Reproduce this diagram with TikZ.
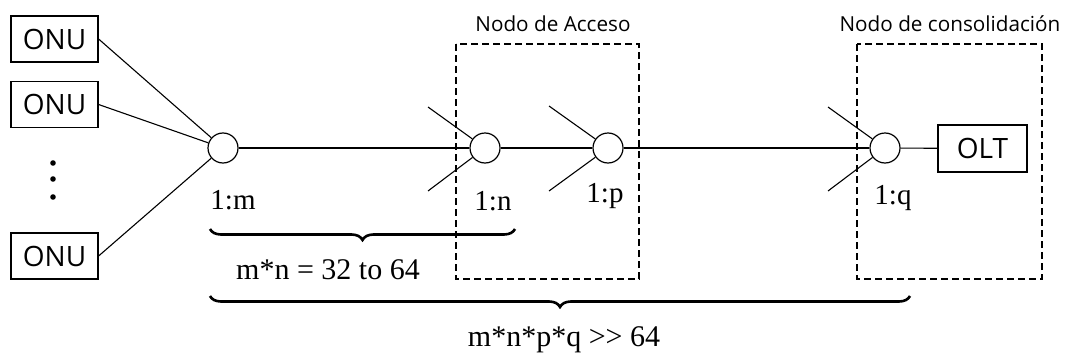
\documentclass[tikz,border=0pt]{standalone}
\usepackage{fontspec}
\setmainfont{Liberation Serif}
\newfontfamily\uisans{Open Sans}
\usetikzlibrary{decorations.pathreplacing}
\begin{document}
\begin{tikzpicture}[x=1pt,y=-1pt,
  line width=1.1pt,
  box/.style={draw,line width=1.2pt,inner sep=0pt,minimum width=87pt,minimum height=46pt,font=\uisans\fontsize{28}{30}\selectfont},
  splitter/.style={draw,circle,line width=1.2pt,minimum size=30pt,inner sep=0pt,fill=white},
  zone/.style={draw,dashed,dash pattern=on 7pt off 4pt,line width=1.2pt},
  ztitle/.style={font=\uisans\fontsize{20.7}{22}\selectfont},
  ratio/.style={font=\fontsize{29}{31}\selectfont},
  sum/.style={font=\fontsize{30}{32}\selectfont},
  bracket/.style={decorate,decoration={brace,mirror,amplitude=11pt},line width=2.6pt}]
\useasboundingbox (0,0) rectangle (1068,356);
% zones
\draw[zone] (456,44) rectangle (639,279);
\draw[zone] (857,44) rectangle (1042,279);
\node[ztitle] (t1) at (553,24) {Nodo de Acceso};
\node[ztitle] (t2) at (950,24) {Nodo de consolidación};
% ONUs
\node[box] (o1) at (54.5,39) {ONU};
\node[box] (o2) at (54.5,104.5) {ONU};
\node[box] (o3) at (54.5,256) {ONU};
\fill (53,163) circle (2.8pt) (53,179) circle (2.8pt) (53,197) circle (2.8pt);
% splitters
\node[splitter] (s1) at (223,148) {};
\node[splitter] (s2) at (485,148) {};
\node[splitter] (s3) at (608,148) {};
\node[splitter] (s4) at (885,148) {};
\node[box,minimum width=89pt,minimum height=47pt] (olt) at (982.5,148.5) {OLT};
\coordinate (a2) at (428,107); \coordinate (b2) at (428,191);
\coordinate (a3) at (549,106); \coordinate (b3) at (549,191);
\coordinate (a4) at (828,107); \coordinate (b4) at (828,191);
\draw (o1.east) -- (s1);
\draw (o2.east) -- (s1);
\draw (o3.east) -- (s1);
\draw (s1) -- (s2);
\draw (s2) -- (s3);
\draw (s3) -- (s4);
\draw (s4) -- (olt);
\draw (a2) -- (s2); \draw (b2) -- (s2);
\draw (a3) -- (s3); \draw (b3) -- (s3);
\draw (a4) -- (s4); \draw (b4) -- (s4);
% ratio labels
\node[ratio] (l1) at (233,200) {1:m};
\node[ratio] (l2) at (493,201) {1:n};
\node[ratio] (l3) at (605,196) {1:p};
\node[ratio] (l4) at (893,198) {1:q};
% braces
\coordinate (br1a) at (210,229); \coordinate (br1b) at (515,229);
\coordinate (br2a) at (210,296); \coordinate (br2b) at (910,296);
\draw[bracket] (br1a) -- (br1b);
\draw[bracket] (br2a) -- (br2b);
\node[sum] (m1) at (328,270) {m*n = 32 to 64};
\node[sum] (m2) at (564,340) {m*n*p*q {>}{>} 64};
\end{tikzpicture}
\end{document}
